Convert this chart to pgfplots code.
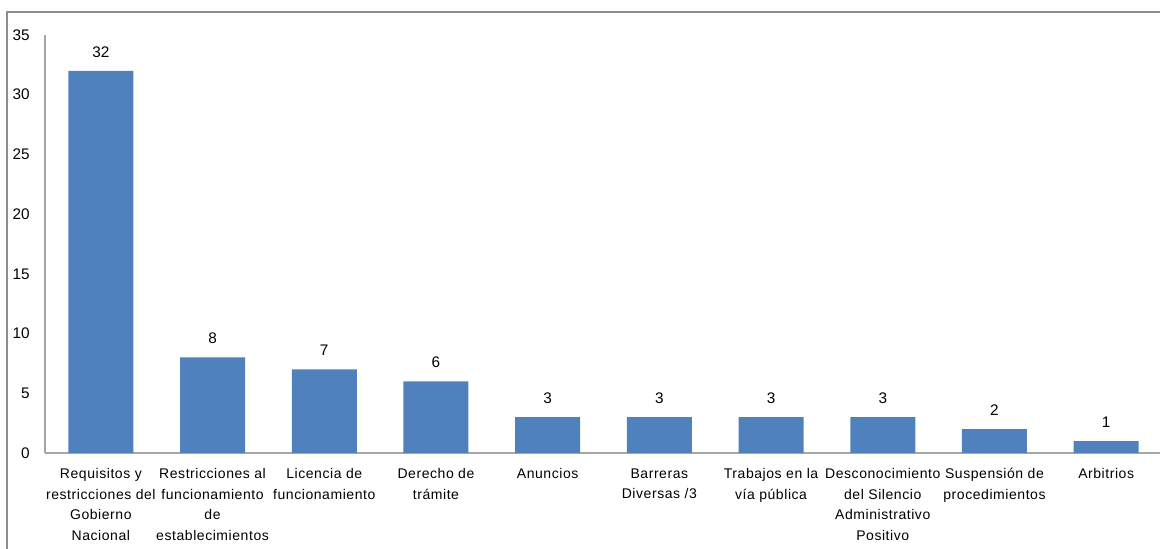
\documentclass[border=0pt]{standalone}
\usepackage{fontspec}
\setmainfont{Liberation Sans}
\newfontfamily\lblfont[LetterSpace=4]{Liberation Sans}
\usepackage{pgfplots}
\pgfplotsset{compat=1.18}
\definecolor{barblue}{HTML}{4F81BD}
\definecolor{axgray}{HTML}{A6A6A6}
\definecolor{framegray}{HTML}{8C8C8C}
\begin{document}
\begin{tikzpicture}[x=1pt,y=1pt]
\useasboundingbox (0,0) rectangle (870,411.75);
\draw[framegray, line width=1pt] (5.25,-2) -- (5.25,402.75) -- (875,402.75);
\begin{axis}[
  at={(33.75pt,72pt)}, anchor=south west,
  scale only axis,
  width=837.75pt, height=313.5pt,
  xmin=-0.5, xmax=9.5, ymin=0, ymax=35,
  axis x line*=bottom, axis y line*=left,
  axis line style={axgray, line width=0.9pt},
  ytick={0,5,...,35},
  xtick={0,...,9},
  major tick length=0pt,
  tick label style={font=\fontsize{11.5}{13}\selectfont},
  /pgf/number format/assume math mode=true,
  yticklabel style={xshift=-8pt},
  xticklabel style={align=center, yshift=-8pt, font=\lblfont\fontsize{10.5}{15.4}\selectfont},
  xticklabels={
    {Requisitos y\\restricciones del\\Gobierno\\Nacional},
    {Restricciones al\\funcionamiento\\de\\establecimientos},
    {Licencia de\\funcionamiento},
    {Derecho de\\trámite},
    {Anuncios},
    {Barreras\\Diversas /3},
    {Trabajos en la\\vía pública},
    {Desconocimiento\\del Silencio\\Administrativo\\Positivo},
    {Suspensión de\\procedimientos},
    {Arbitrios}},
  ybar, bar width=48.75pt,
  nodes near coords,
  nodes near coords style={font=\fontsize{11.5}{13}\selectfont, inner sep=0pt, yshift=10pt},
  clip=false,
]
\addplot[fill=barblue, draw=none] coordinates {
  (0,32) (1,8) (2,7) (3,6) (4,3) (5,3) (6,3) (7,3) (8,2) (9,1)
};
\end{axis}
\end{tikzpicture}
\end{document}
